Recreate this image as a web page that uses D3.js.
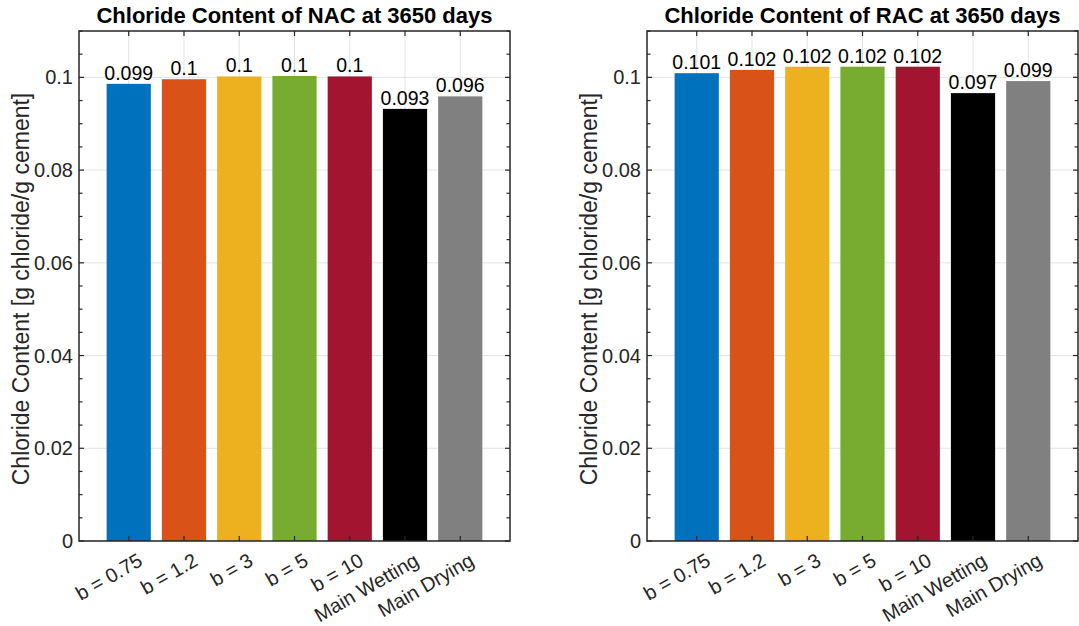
<!DOCTYPE html>
<html>
<head>
<meta charset="utf-8">
<script src="https://cdn.jsdelivr.net/npm/d3@7"></script>
<style>
  html, body { margin: 0; padding: 0; background: #fff; }
  svg { display: block; font-family: "Liberation Sans", Arial, Helvetica, sans-serif; }
</style>
</head>
<body>
<svg id="chart" width="1079" height="626"></svg>
<script>
(function() {

var categories = ["b = 0.75", "b = 1.2", "b = 3", "b = 5", "b = 10", "Main Wetting", "Main Drying"];
var barColors = ["#0072BD", "#D95319", "#EDB120", "#77AC30", "#A2142F", "#000000", "#808080"];

// values (g chloride / g cement)
var nacValues = [0.0986, 0.0996, 0.1002, 0.1003, 0.1002, 0.0932, 0.0959];
var racValues = [0.1009, 0.1016, 0.1023, 0.1023, 0.1023, 0.0966, 0.0992];

var yMajorTicks = [0, 0.02, 0.04, 0.06, 0.08, 0.1];
var yTickLabels = ["0", "0.02", "0.04", "0.06", "0.08", "0.1"];

var panels = [
  {title: "Chloride Content of NAC at 3650 days", values: nacValues, left: 79, right: 510},
  {title: "Chloride Content of RAC at 3650 days", values: racValues, left: 647, right: 1078}
];

var top = 31, bottom = 541;
var axisColor = "#262626", gridColor = "#e3e3e3";
var tickLen = 5, minorLen = 3.5;

var svg = d3.select("#chart");

panels.forEach(function(p) {
  var x = d3.scaleLinear().domain([0.1, 7.9]).range([p.left, p.right]);
  var y = d3.scaleLinear().domain([0, 0.11]).range([bottom, top]);
  var g = svg.append("g");

  var idx = d3.range(categories.length);
  var minor = d3.range(0, 0.1101, 0.005).filter(function(v) {
    return Math.abs(v / 0.02 - Math.round(v / 0.02)) > 1e-6;
  });

  // grid
  g.selectAll(".vgrid").data(idx).enter().append("line")
    .attr("x1", function(i) { return x(i + 1); })
    .attr("x2", function(i) { return x(i + 1); })
    .attr("y1", top).attr("y2", bottom)
    .attr("stroke", gridColor).attr("stroke-width", 1);
  g.selectAll(".hgrid").data(yMajorTicks).enter().append("line")
    .attr("x1", p.left).attr("x2", p.right)
    .attr("y1", function(v) { return y(v); })
    .attr("y2", function(v) { return y(v); })
    .attr("stroke", gridColor).attr("stroke-width", 1);

  // bars
  var bw = (x(1.8) - x(1));
  g.selectAll(".bar").data(p.values).enter().append("rect")
    .attr("x", function(d, i) { return x(i + 1) - bw / 2; })
    .attr("y", function(d) { return y(d); })
    .attr("width", bw)
    .attr("height", function(d) { return y(0) - y(d); })
    .attr("fill", function(d, i) { return barColors[i]; });

  // value labels
  g.selectAll(".val").data(p.values).enter().append("text")
    .attr("x", function(d, i) { return x(i + 1); })
    .attr("y", function(d) { return y(d) - 4; })
    .attr("text-anchor", "middle")
    .attr("font-size", 19.5)
    .attr("fill", "#000")
    .text(function(d) { return String(+d.toFixed(3)); });

  // box
  g.append("rect")
    .attr("x", p.left).attr("y", top)
    .attr("width", p.right - p.left).attr("height", bottom - top)
    .attr("fill", "none").attr("stroke", axisColor).attr("stroke-width", 1.5);

  // y ticks, both sides
  var ticks = g.append("g").attr("stroke", axisColor).attr("stroke-width", 1.2);
  yMajorTicks.forEach(function(v) {
    ticks.append("line").attr("x1", p.left).attr("x2", p.left + tickLen).attr("y1", y(v)).attr("y2", y(v));
    ticks.append("line").attr("x1", p.right).attr("x2", p.right - tickLen).attr("y1", y(v)).attr("y2", y(v));
  });
  minor.forEach(function(v) {
    ticks.append("line").attr("x1", p.left).attr("x2", p.left + minorLen).attr("y1", y(v)).attr("y2", y(v));
    ticks.append("line").attr("x1", p.right).attr("x2", p.right - minorLen).attr("y1", y(v)).attr("y2", y(v));
  });
  idx.forEach(function(i) {
    ticks.append("line").attr("x1", x(i + 1)).attr("x2", x(i + 1)).attr("y1", top).attr("y2", top + tickLen);
    ticks.append("line").attr("x1", x(i + 1)).attr("x2", x(i + 1)).attr("y1", bottom).attr("y2", bottom - tickLen);
  });

  // y tick labels
  g.selectAll(".ylab").data(yMajorTicks).enter().append("text")
    .attr("x", p.left - 6)
    .attr("y", function(v) { return y(v); })
    .attr("dy", "0.35em")
    .attr("text-anchor", "end")
    .attr("font-size", 20)
    .attr("fill", axisColor)
    .text(function(v, i) { return yTickLabels[i]; });

  // x tick labels, rotated 30deg
  g.selectAll(".xlab").data(categories).enter().append("text")
    .attr("transform", function(d, i) { return "translate(" + (x(i + 1) + 8) + "," + (bottom + 11) + ") rotate(-30)"; })
    .attr("dy", "0.72em")
    .attr("text-anchor", "end")
    .attr("font-size", 20)
    .attr("fill", axisColor)
    .text(function(d) { return d; });

  // y axis label
  g.append("text")
    .attr("transform", "translate(" + (p.left - 50.5) + "," + ((top + bottom) / 2 + 3) + ") rotate(-90)")
    .attr("text-anchor", "middle")
    .attr("font-size", 23)
    .attr("fill", axisColor)
    .text("Chloride Content [g chloride/g cement]");

  // title
  g.append("text")
    .attr("x", (p.left + p.right) / 2)
    .attr("y", 23)
    .attr("text-anchor", "middle")
    .attr("font-size", 22)
    .attr("font-weight", "bold")
    .attr("fill", "#000")
    .text(p.title);
});

})();
</script>
</body>
</html>
